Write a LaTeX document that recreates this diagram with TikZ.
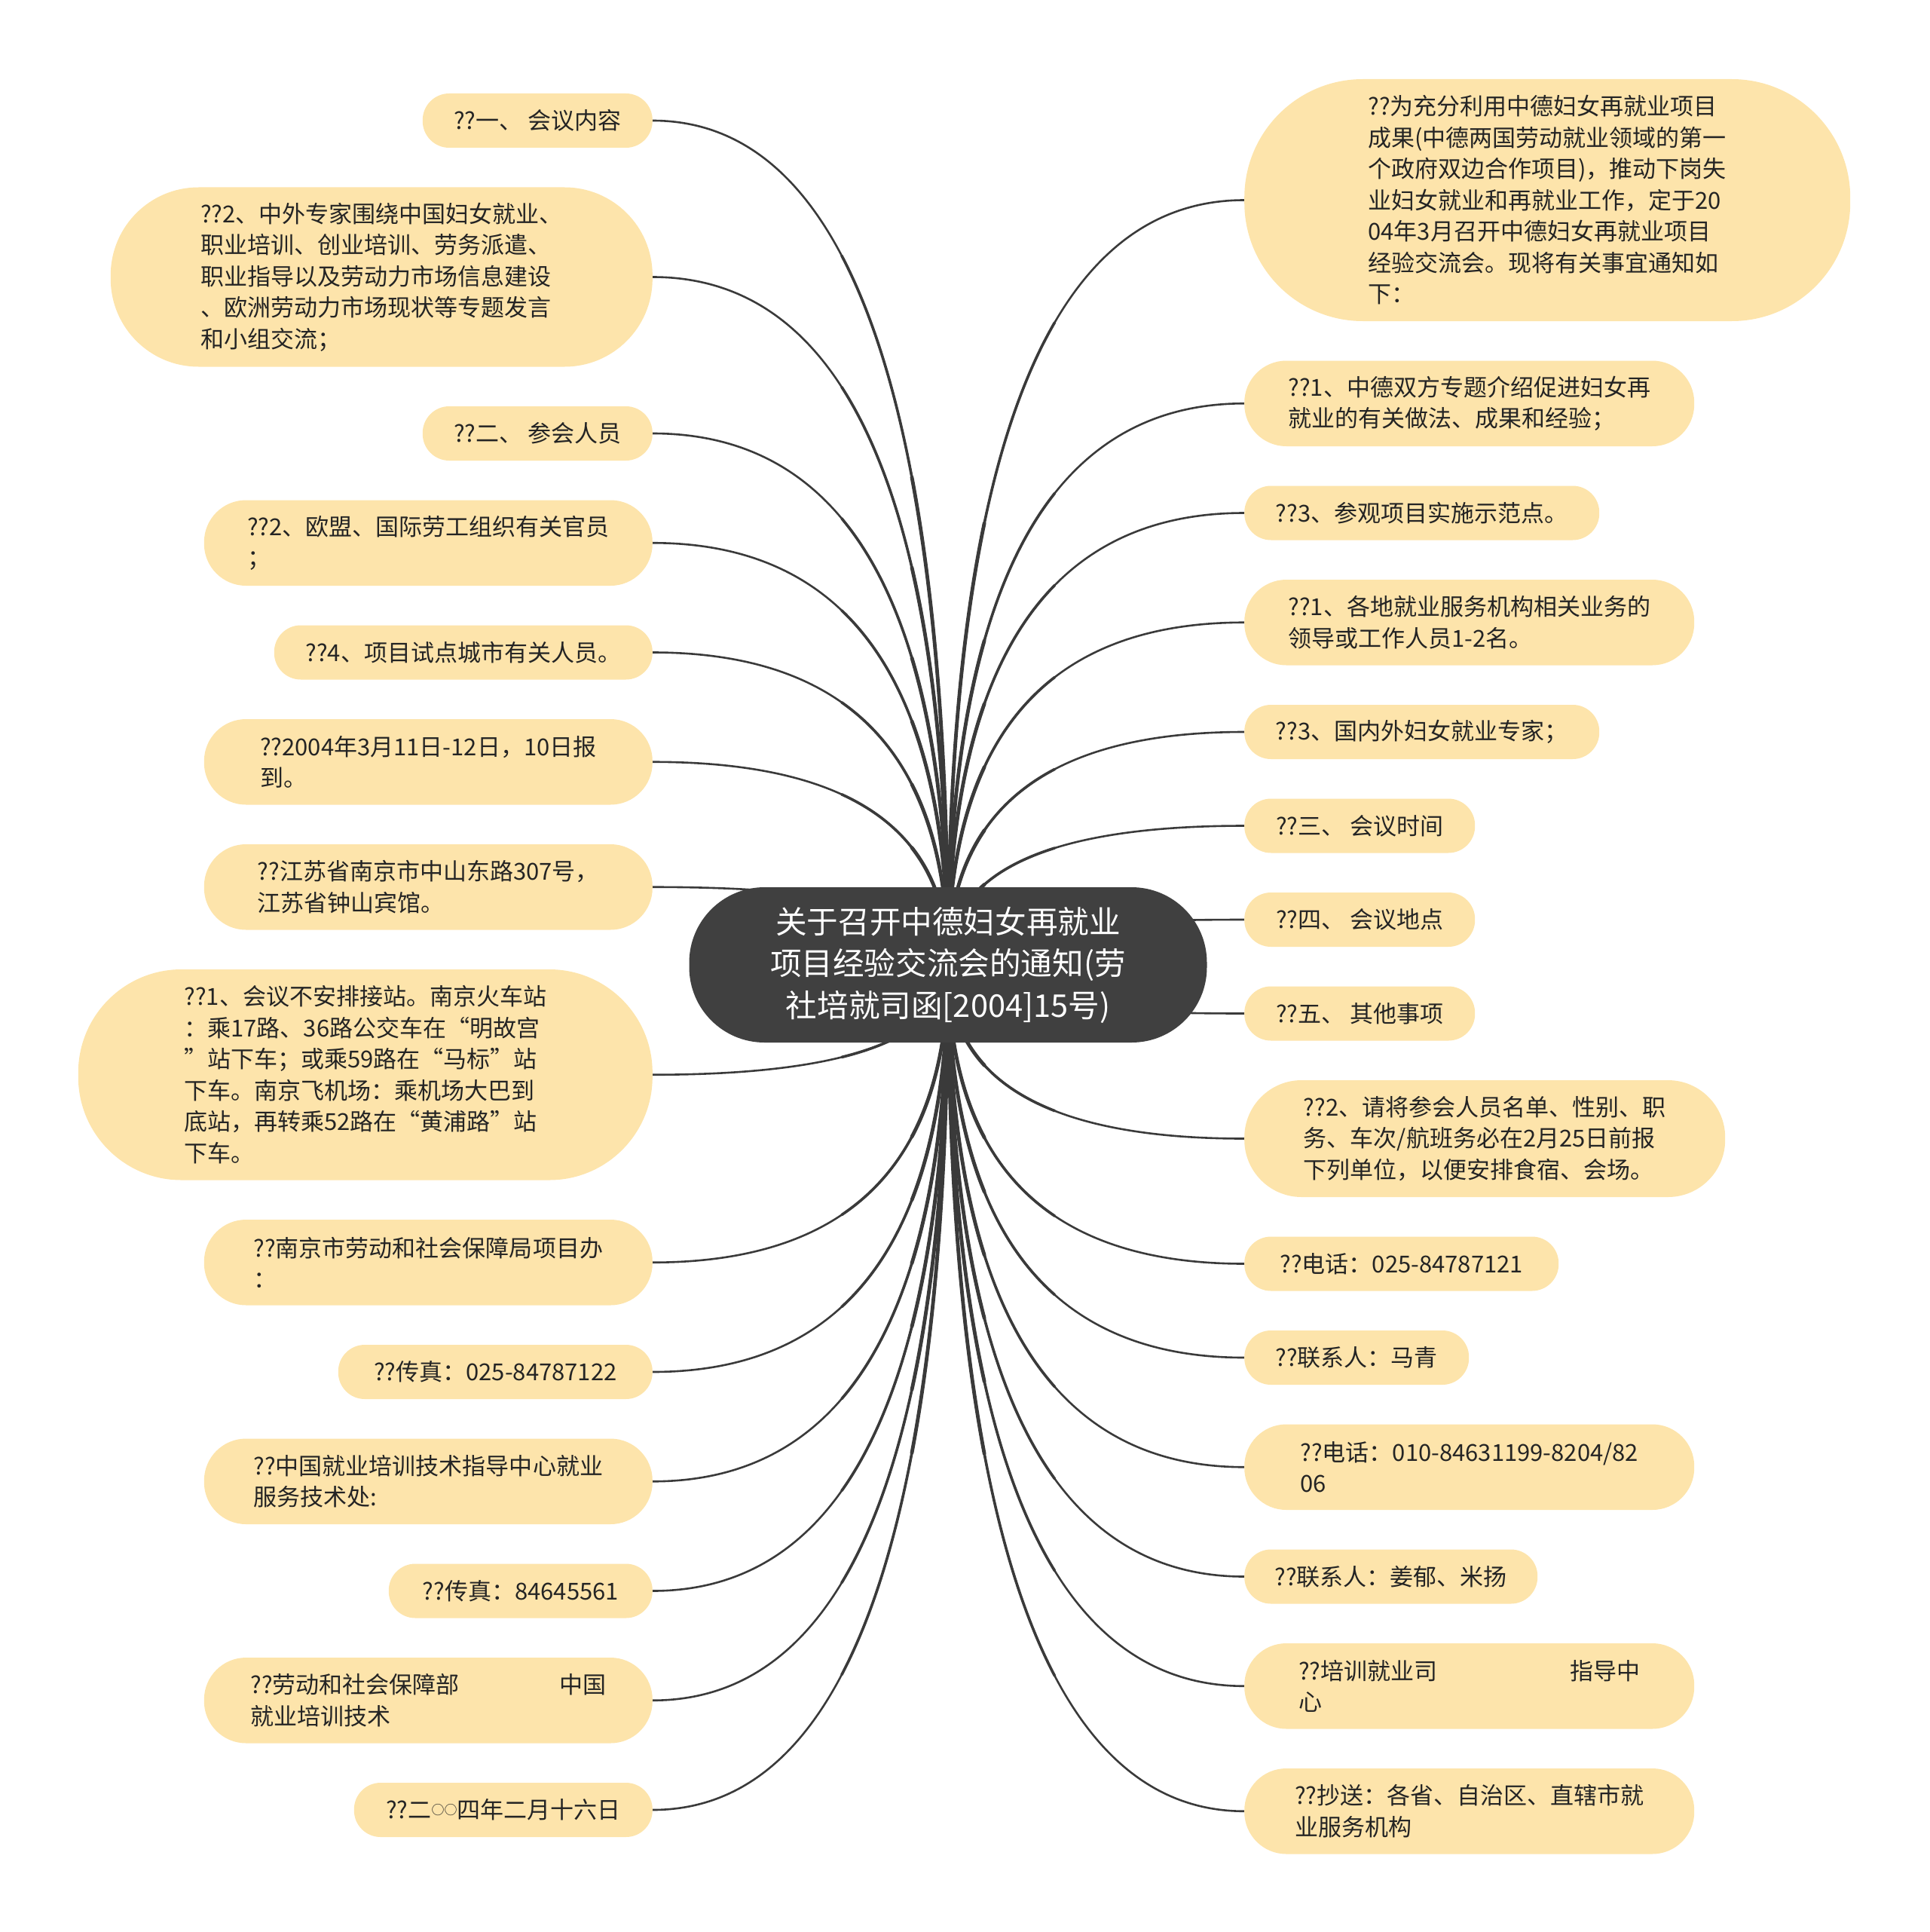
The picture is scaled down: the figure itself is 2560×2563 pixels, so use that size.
\documentclass[tikz,border=0pt]{standalone}
\usepackage{fontspec}
\setmainfont{Noto Sans CJK SC}
\usetikzlibrary{backgrounds,calc}
\definecolor{leaffill}{RGB}{253,228,171}
\definecolor{rootfill}{RGB}{64,64,64}
\definecolor{linecol}{RGB}{58,58,58}
\definecolor{txtcol}{RGB}{36,36,36}
\tikzset{
  leafbox/.style 2 args={draw=none, fill=leaffill, minimum width=#1, minimum height=#2,
    rounded corners=0.49*#2, inner sep=0pt, align=left, text=txtcol,
    font=\fontsize{31}{41.5}\selectfont},
  rootbox/.style={draw=none, fill=rootfill, minimum width=687pt, minimum height=206pt,
    rounded corners=100pt, inner sep=0pt, align=center, text=white,
    font=\fontsize{41.6}{55.6}\selectfont},
  conn/.style={draw=linecol, line width=2.6pt, line cap=round}
}
% partial quadratic curve from the root centre towards #1, for t in [0,#2]
\newcommand\mmpart[3]{%
  \coordinate (qq) at (c.center |- #1);
  \coordinate (qa) at ($(c.center)!#2!(qq)$);
  \coordinate (qb) at ($(qq)!#2!(#1)$);
  \coordinate (qe) at ($(qa)!#2!(qb)$);
  \draw[conn, line width=#3] (c.center) .. controls ($(c.center)!0.6667!(qa)$) and ($(qe)!0.6667!(qa)$) .. (qe);}
\newcommand\mmlink[1]{%
  \draw[conn] (c.center) .. controls ($(c.center)!0.6667!(c.center |- #1)$) and ($(#1)!0.6667!(c.center |- #1)$) .. (#1);
  \mmpart{#1}{0.6}{3.6pt}
  \mmpart{#1}{0.35}{4.8pt}}
\newcommand\smallcirc{\raisebox{5pt}{\fontsize{17}{17}\selectfont ○}}
\begin{document}
\begin{tikzpicture}[x=1pt,y=-1pt]
\useasboundingbox (0,0) rectangle (2560,2563);
\node[rootbox] (c) at (1258,1280) {关于召开中德妇女再就业\\项目经验交流会的通知(劳\\社培就司函[2004]15号)};
% left column
\node[leafbox={305pt}{72pt}, anchor=east] (L1) at (866,160) {??一、 会议内容};
\node[leafbox={719pt}{238pt}, anchor=east] (L2) at (866,367.5) {??2、中外专家围绕中国妇女就业、\\职业培训、创业培训、劳务派遣、\\职业指导以及劳动力市场信息建设\\、欧洲劳动力市场现状等专题发言\\和小组交流；};
\node[leafbox={305pt}{72pt}, anchor=east] (L3) at (866,575) {??二、 参会人员};
\node[leafbox={595pt}{113.5pt}, anchor=east] (L4) at (866,720.25) {??2、欧盟、国际劳工组织有关官员\\；};
\node[leafbox={502pt}{72pt}, anchor=east] (L5) at (866,865.5) {??4、项目试点城市有关人员。};
\node[leafbox={595pt}{113.5pt}, anchor=east] (L6) at (866,1010.75) {??2004年3月11日-12日，10日报\\到。};
\node[leafbox={595pt}{113.5pt}, anchor=east] (L7) at (866,1176.75) {??江苏省南京市中山东路307号，\\江苏省钟山宾馆。};
\node[leafbox={762pt}{279.5pt}, anchor=east] (L8) at (866,1425.75) {??1、会议不安排接站。南京火车站\\：乘17路、36路公交车在“明故宫\\”站下车；或乘59路在“马标”站\\下车。南京飞机场：乘机场大巴到\\底站，再转乘52路在“黄浦路”站\\下车。};
\node[leafbox={595pt}{113.5pt}, anchor=east] (L9) at (866,1674.75) {??南京市劳动和社会保障局项目办\\：};
\node[leafbox={417pt}{72pt}, anchor=east] (L10) at (866,1820) {??传真：025-84787122};
\node[leafbox={595pt}{113.5pt}, anchor=east] (L11) at (866,1965.25) {??中国就业培训技术指导中心就业\\服务技术处:};
\node[leafbox={350pt}{72pt}, anchor=east] (L12) at (866,2110.5) {??传真：84645561};
\node[leafbox={595pt}{113.5pt}, anchor=east] (L13) at (866,2255.75) {??劳动和社会保障部\hspace{132pt}中国\\就业培训技术};
\node[leafbox={396pt}{72pt}, anchor=east] (L14) at (866,2401) {??二\smallcirc\smallcirc 四年二月十六日};
% right column
\node[leafbox={804pt}{321pt}, anchor=west] (R1) at (1651,265.5) {??为充分利用中德妇女再就业项目\\成果(中德两国劳动就业领域的第一\\个政府双边合作项目)，推动下岗失\\业妇女就业和再就业工作，定于20\\04年3月召开中德妇女再就业项目\\经验交流会。现将有关事宜通知如\\下：};
\node[leafbox={597pt}{113.5pt}, anchor=west] (R2) at (1651,535.25) {??1、中德双方专题介绍促进妇女再\\就业的有关做法、成果和经验；};
\node[leafbox={471pt}{72pt}, anchor=west] (R3) at (1651,680.5) {??3、参观项目实施示范点。};
\node[leafbox={597pt}{113.5pt}, anchor=west] (R4) at (1651,825.75) {??1、各地就业服务机构相关业务的\\领导或工作人员1-2名。};
\node[leafbox={471pt}{72pt}, anchor=west] (R5) at (1651,971) {??3、国内外妇女就业专家；};
\node[leafbox={306pt}{72pt}, anchor=west] (R6) at (1651,1095.5) {??三、 会议时间};
\node[leafbox={306pt}{72pt}, anchor=west] (R7) at (1651,1220) {??四、 会议地点};
\node[leafbox={306pt}{72pt}, anchor=west] (R8) at (1651,1344.5) {??五、 其他事项};
\node[leafbox={638pt}{155pt}, anchor=west] (R9) at (1651,1510.5) {??2、请将参会人员名单、性别、职\\务、车次/航班务必在2月25日前报\\下列单位，以便安排食宿、会场。};
\node[leafbox={417pt}{72pt}, anchor=west] (R10) at (1651,1676.5) {??电话：025-84787121};
\node[leafbox={298pt}{72pt}, anchor=west] (R11) at (1651,1801) {??联系人：马青};
\node[leafbox={597pt}{113.5pt}, anchor=west] (R12) at (1651,1946.25) {??电话：010-84631199-8204/82\\06};
\node[leafbox={389pt}{72pt}, anchor=west] (R13) at (1651,2091.5) {??联系人：姜郁、米扬};
\node[leafbox={597pt}{113.5pt}, anchor=west] (R14) at (1651,2236.75) {??培训就业司\hspace{176pt}指导中\\心};
\node[leafbox={597pt}{113.5pt}, anchor=west] (R15) at (1651,2402.75) {??抄送：各省、自治区、直辖市就\\业服务机构};
\begin{scope}[on background layer]
\foreach \n in {L1,L2,L3,L4,L5,L6,L7,L8,L9,L10,L11,L12,L13,L14} {\mmlink{\n.east}}
\foreach \n in {R1,R2,R3,R4,R5,R6,R7,R8,R9,R10,R11,R12,R13,R14,R15} {\mmlink{\n.west}}
\end{scope}
\end{tikzpicture}
\end{document}
